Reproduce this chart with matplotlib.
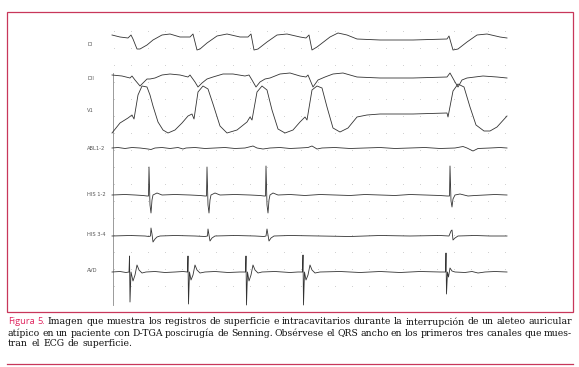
import matplotlib
matplotlib.use("Agg")
import numpy as np
import matplotlib.pyplot as plt
from matplotlib.patches import Rectangle

# channel names printed left of the sweep
channels = ["DI", "DII", "V1", "ABL1-2", "HIS 1-2", "HIS 3-4", "AVD"]

# traces: time (px along sweep), deflection (px, up = +)
di_t = [112, 120, 128, 131, 133, 137, 140, 147, 153, 162, 170, 180, 190, 193, 197, 200, 207, 217, 227, 240,
        248, 251, 254, 258, 267, 277, 287, 300, 306, 309, 312, 317, 330, 338, 347, 357, 380, 413, 447, 449,
        453, 458, 467, 477, 487, 500, 507]
di_v = [3, 1, 0, 3, -1, -11, -11, -7, -2, 3, 4, 1, 1, 4, -12, -11, -5, 2, 4, 1,
        1, 4, -12, -11, -4, 3, 4, 1, 0, 3, -12, -9, 1, 5, 3, -1, -2, -2, -1, 2,
        -12, -11, -4, 3, 4, 1, 0]

dii_t = [112, 122, 130, 132, 135, 140, 143, 147, 150, 155, 162, 170, 180, 188, 190, 195, 198, 202, 207, 213,
         223, 233, 245, 249, 252, 256, 260, 265, 270, 280, 290, 300, 306, 308, 313, 318, 325, 333, 343, 357,
         380, 413, 447, 450, 455, 458, 462, 467, 483, 497, 507]
dii_v = [1, 0, -2, 0, -4, -10, -7, -3, -3, -2, 1, 2, 1, -1, 1, -6, -11, -7, -3, -1,
         2, 2, 0, 1, -4, -11, -6, -3, -2, 2, 3, 0, -1, 1, -11, -4, -1, 2, 3, -1,
         -2, -2, -1, 3, -6, -11, -4, -2, 0, -1, -2]

v1_t = [112, 120, 128, 132, 134, 138, 142, 147, 150, 153, 158, 163, 168, 175, 182, 188, 192, 194, 198, 203,
        208, 213, 220, 227, 237, 247, 250, 252, 257, 262, 267, 272, 278, 285, 293, 300, 305, 307, 312, 317,
        322, 327, 333, 340, 348, 357, 367, 380, 413, 447, 448, 453, 458, 464, 470, 476, 484, 490, 497, 507]
v1_v = [-20, -10, -5, -2, -6, 18, 27, 26, 18, 7, -9, -17, -20, -17, -10, -3, -1, -6, 21, 27,
        24, 9, -13, -20, -17, -9, -4, -7, 21, 27, 23, 3, -16, -20, -17, -9, -4, -7, 23, 27,
        25, 6, -15, -19, -15, -4, -2, -1, -1, 0, -4, 22, 29, 26, 6, -12, -18, -18, -14, -3]

abl_t = [112, 118, 125, 132, 140, 148, 151, 155, 162, 170, 178, 183, 186, 195, 205, 215, 225, 235, 245, 253,
         257, 263, 270, 280, 290, 300, 308, 312, 317, 322, 335, 350, 365, 380, 395, 410, 425, 440, 455, 463,
         467, 473, 478, 490, 500, 507]
abl_v = [0, 0.5, -0.5, 0.5, 0, -1, -1.5, 0, 0.5, -0.5, 0.5, -1, 0, 0.5, -0.5, 0, 0.5, -0.5, 0, 2,
         0, -1, 0, 0.5, -0.5, 0, 0.5, 2, -1, 0, 0.5, -0.5, 0, 0.5, -0.5, 0, 0.5, -0.5, 0, 1.5,
         0, -3, -0.5, 0, 0.5, 0]

his12_t = [112, 125, 135, 143, 147, 148.5, 149, 150, 151, 152, 153, 157, 162, 175, 190, 200, 205, 206.5, 207, 208,
           209, 210, 211, 215, 220, 235, 250, 260, 264, 265.5, 266, 267, 268, 269, 270, 273, 278, 290, 305, 320,
           335, 350, 365, 380, 395, 410, 425, 440, 447, 449.5, 450, 451, 452, 453, 455, 460, 468, 475, 485, 495,
           507]
his12_v = [0, 0.5, 0, -0.5, -1, -1, 28, -10, -18, -5, 0, 2, 0, 0.5, 0, -0.5, -1, -1, 28, -10,
           -18, -5, 0, 2, 0, 0.5, 0, -0.5, -1, -1, 29, -10, -18, -5, 0, 2, 0, 0.5, -0.5, 0.5,
           0, -0.5, 0.5, 0, -0.5, 0.5, 0, -0.5, -1, -1, 29, -6, -12, -4, 0, 1, -1, -0.5, 0, 0.5,
           0]

his34_t = [112, 130, 145, 149, 150.5, 151, 152, 153, 155, 157, 160, 175, 195, 205, 207.5, 208, 209, 210, 212, 215,
           235, 255, 264, 266, 267, 268, 269, 271, 274, 290, 320, 350, 380, 410, 440, 449, 451, 452, 453, 455,
           458, 475, 490, 507]
his34_v = [0, 0.5, 0, -0.5, 0, 8, 2, -6, -3, -1, 0, 0.5, 0, -0.5, 0, 7, 1, -5, -2, 0,
           0.5, 0, -0.5, 0, 7, 1, -5, -2, 0, 0.5, 0, -0.5, 0.5, 0, 0.5, 0, 5, 6, -4, -2,
           0, 0.5, 0, 0]

avd_t = [112, 120, 126, 129, 129.5, 130, 131, 133, 135, 137, 139, 142, 146, 155, 165, 175, 183, 187.5, 188, 188.5,
         189.5, 191, 193, 195, 197, 200, 205, 215, 228, 240, 245.5, 246, 246.5, 247.5, 249, 251, 253, 255, 258, 262,
         275, 290, 298, 302.5, 303, 303.5, 304.5, 306, 308, 310, 312, 315, 320, 340, 360, 380, 400, 420, 440, 445.5,
         446, 446.5, 447.5, 448.5, 450, 452, 455, 465, 472, 478, 485, 495, 507]
avd_v = [0, 0.5, -0.5, 0, 16, -30, 0, -9, -3, 7, 2, -1, 0, 0.5, -0.5, 0, 0.5, 0, 16, -32,
         0, -8, -3, 7, 2, -1, 0, 0.5, -0.5, 0, 0, 16, -33, 0, -9, -3, 7, 2, -1, 0,
         0.5, -0.5, 0, 0, 17, -33, 0, -8, -3, 7, 2, -1, 0, 0.5, -0.5, 0.5, -0.5, 0.5, 0, 0,
         19, -22, 0, -5, 4, 1, 0, -0.5, 0.5, -1, 0, 0.5, 0]

traces = [(di_t, di_v), (dii_t, dii_v), (v1_t, v1_v), (abl_t, abl_v),
          (his12_t, his12_v), (his34_t, his34_v), (avd_t, avd_v)]

caption = [
    "Figura 5. Imagen que muestra los registros de superficie e intracavitarios durante la interrupción de un aleteo auricular",
    "atípico en un paciente con D-TGA poscirugía de Senning. Obsérvese el QRS ancho en los primeros tres canales que mues-",
    "tran el ECG de superficie.",
]

# layout (pixel positions)
baselines = [38, 76, 113, 148, 195, 236, 272]
label_y = [45, 78, 110, 148, 195, 235, 270]
RED = "#c8375a"

fig = plt.figure(figsize=(5.79, 3.67), dpi=100)
ax = fig.add_axes([0, 0, 1, 1])
ax.set_xlim(0, 579)
ax.set_ylim(367, 0)
ax.axis("off")

# frame around the figure and rule under caption
ax.add_patch(Rectangle((7, 12), 566, 299.5, fill=False, ec=RED, lw=0.9))
ax.plot([7, 573], [364, 364], color=RED, lw=0.9)

# faint dot grid of the recording paper
gx, gy = np.meshgrid(np.arange(114, 508, 17), np.arange(31, 302, 17))
ax.scatter(gx.ravel(), gy.ravel(), s=0.5, color="#cfcfcf", lw=0)

# left edge of the sweep
ax.plot([112.5, 112.5], [73, 305], color="#8a8a8a", lw=0.6)

for (t, v), base, ly, name in zip(traces, baselines, label_y, channels):
    ax.plot(t, [base - d for d in v], color="#333333", lw=0.6)
    ax.text(87, ly, name, fontsize=3.7, color="#555555", va="center", ha="left")

# caption, justified like the printed text
r = fig.canvas.get_renderer()


def put_line(y, words, styles, x0, x1, justify=True):
    txts = [ax.text(0, y, w, va="center", ha="left", **s) for w, s in zip(words, styles)]
    ws = [t.get_window_extent(r).width for t in txts]
    sp = (x1 - x0 - sum(ws)) / (len(ws) - 1) if justify else 3.4
    x = x0
    for t, w in zip(txts, ws):
        t.set_x(x)
        x += w + sp


body = dict(fontsize=6.7, family="DejaVu Serif", color="#111111")
head = dict(fontsize=6.7, family="Open Sans", color="#e0245e")

w1 = caption[0].split(" ")
st1 = [head, head] + [body] * (len(w1) - 2)
put_line(322, w1, st1, 8, 572)
w2 = caption[1].split(" ")
put_line(333, w2, [body] * len(w2), 8, 572)
w3 = caption[2].split(" ")
put_line(344, w3, [body] * len(w3), 8, 572, justify=False)

fig.savefig("out.png", dpi=100)
